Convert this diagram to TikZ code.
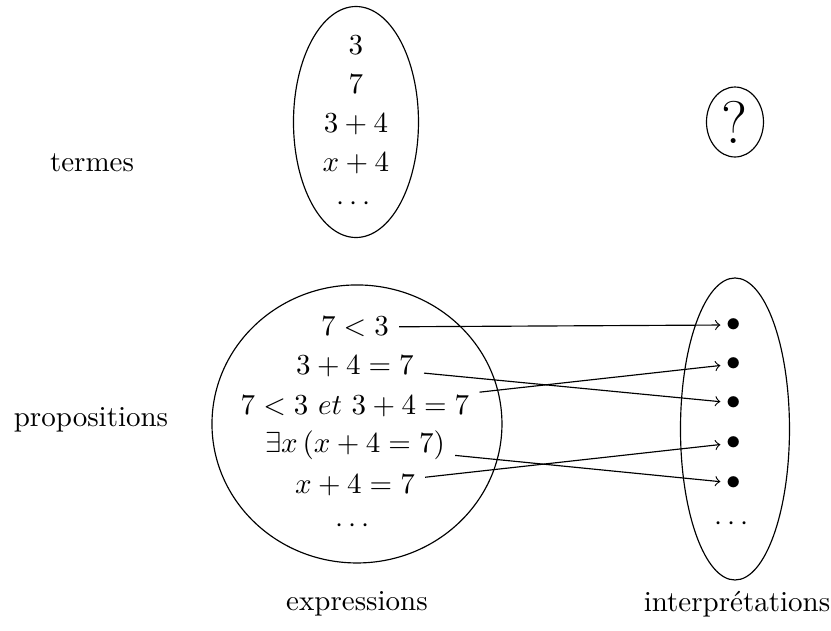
\documentclass[tikz,border=0pt]{standalone}
\usepackage{amssymb}
\usepackage{amsmath}
\usetikzlibrary{shapes.geometric}

\begin{document}
\begin{tikzpicture}[auto]

%
% Styles
%
\tikzstyle{ensemble} = [ellipse,draw,inner sep=0pt]
\tikzstyle{valeur} = [inner sep=2pt]
\tikzstyle{fleche} = [->]

\useasboundingbox (0,0) rectangle (10.073,-7.648);

% labels
\node (termes) at (1.115,-1.976) {termes};
\node (props)  at (1.103,-5.091) {propositions};
\node (expr)   at (4.327,-7.321) {expressions};
\node (interp) at (8.933,-7.321) {interpr\'etations};

% ensembles
\node[ensemble,minimum width=1.515cm,minimum height=2.8cm]   (T) at (4.315,-1.479) {};
\node[ensemble,minimum width=3.515cm,minimum height=3.37cm]  (P) at (4.327,-5.139) {};
\node[ensemble,minimum width=1.321cm,minimum height=3.661cm] (V) at (8.909,-5.2)   {};
\node[ensemble,minimum width=0.691cm,minimum height=0.848cm] (Q) at (8.909,-1.479) {\huge ?};

% termes
\node (t1) at (4.315,-0.545) {$3$};
\node (t2) at (4.315,-1.024) {$7$};
\node (t3) at (4.315,-1.503) {$3+4$};
\node (t4) at (4.315,-1.982) {$x+4$};
\node (t5) at (4.315,-2.470) {$\cdots$};

% propositions
\node (p1) at (4.303,-3.964) {$7<3$};
\node (p2) at (4.303,-4.442) {$3+4=7$};
\node (p3) at (4.303,-4.921) {$7<3~et~3+4=7$};
\node (p4) at (4.303,-5.400) {$\exists x\,(x+4=7)$};
\node (p5) at (4.303,-5.879) {$x+4=7$};
\node (p6) at (4.303,-6.380) {$\cdots$};

% valeurs
\node[valeur] (v1) at (8.897,-3.939) {$\bullet$};
\node[valeur] (v2) at (8.897,-4.412) {$\bullet$};
\node[valeur] (v3) at (8.897,-4.885) {$\bullet$};
\node[valeur] (v4) at (8.897,-5.370) {$\bullet$};
\node[valeur] (v5) at (8.897,-5.855) {$\bullet$};
\node[valeur] (v6) at (8.897,-6.350) {$\cdots$};

\path (p1) edge [fleche] (v1);
\path (p2) edge [fleche] (v3);
\path (p3) edge [fleche] (v2);
\path (p4) edge [fleche] (v5);
\path (p5) edge [fleche] (v4);

\end{tikzpicture}
\end{document}
